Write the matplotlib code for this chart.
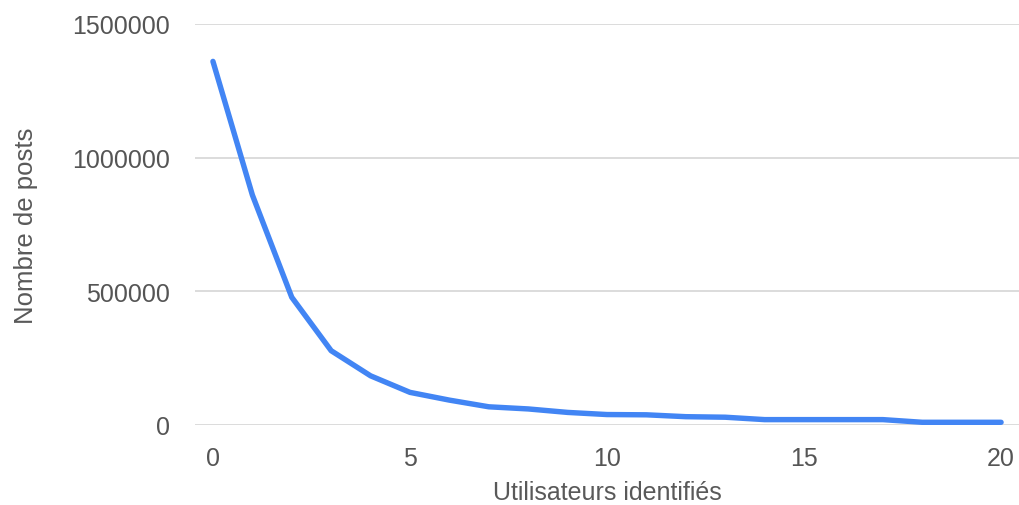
import matplotlib
matplotlib.use("Agg")
import matplotlib.pyplot as plt

plt.rcParams["font.family"] = ["Liberation Sans", "DejaVu Sans"]

# number of identified users per post vs. number of posts
users = list(range(21))
posts = [1360000, 860000, 477000, 277000, 183000, 121000, 92000, 67000,
         59000, 46000, 38000, 37000, 30000, 28000, 19000, 19000, 19000,
         19000, 9000, 9000, 9000]

fig = plt.figure(figsize=(10.2, 5.06), dpi=100)
ax = fig.add_axes([0.191, 0.1587, 0.809, 0.7919])

ax.plot(users, posts, color="#4285F4", linewidth=3.9, solid_capstyle="round",
        solid_joinstyle="round", zorder=3)

ax.set_xlim(-0.46, 20.48)
ax.set_ylim(0, 1500000)
ax.set_xticks([0, 5, 10, 15, 20])
ax.set_yticks([0, 500000, 1000000, 1500000])
ax.set_yticklabels(["0", "500000", "1000000", "1500000"])

ax.grid(axis="y", color="#d9d9d9", linewidth=1.3, zorder=0)
for s in ax.spines.values():
    s.set_visible(False)
ax.tick_params(axis="both", length=0, labelsize=18, labelcolor="#555555")
ax.tick_params(axis="y", pad=18)
ax.tick_params(axis="x", pad=15)

ax.set_xlabel("Utilisateurs identifiés", fontsize=18, color="#595959")
ax.set_ylabel("Nombre de posts", fontsize=18.5, color="#595959")
ax.xaxis.set_label_coords(0.5, -0.138)
ax.yaxis.set_label_coords(-0.19, 0.5)

fig.savefig("out.png", dpi=100)
